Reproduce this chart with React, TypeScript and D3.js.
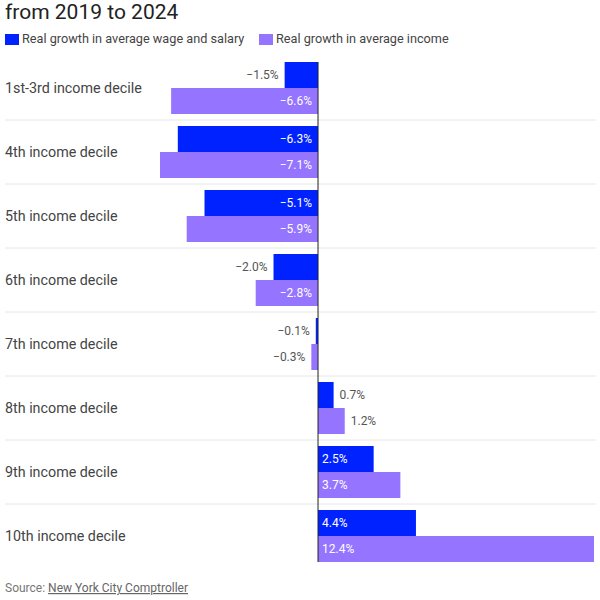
import * as d3 from "d3";
import { useEffect } from "react";

const categories = [
  "1st-3rd income decile",
  "4th income decile",
  "5th income decile",
  "6th income decile",
  "7th income decile",
  "8th income decile",
  "9th income decile",
  "10th income decile",
];
const wageGrowth = [-1.5, -6.3, -5.1, -2.0, -0.1, 0.7, 2.5, 4.4];
const incomeGrowth = [-6.6, -7.1, -5.9, -2.8, -0.3, 1.2, 3.7, 12.4];
const seriesNames = ["Real growth in average wage and salary", "Real growth in average income"];
const colors = ["#0022ff", "#9574ff"];

const FONT = "Roboto, 'Noto Sans', sans-serif";

export default function App() {
  useEffect(() => {
    document.body.style.margin = "0";
  }, []);

  const width = 600;
  const height = 600;
  const top = 56;
  const bottom = 568;

  const x = d3.scaleLinear().domain([-7.1, 12.4]).range([160, 594]);
  const y = d3.scaleBand().domain(categories).range([top, bottom]);
  const sub = d3.scaleBand().domain(["w", "i"]).range([6, y.bandwidth() - 6]);

  const fmt = (v: number) => `${v.toFixed(1)}%`.replace("-", "\u2212");

  // bar + its value label (inside when the bar is wide enough)
  const bar = (cat: string, v: number, key: "w" | "i", color: string) => {
    const x0 = x(0);
    const x1 = x(v);
    const left = Math.min(x0, x1);
    const w = Math.abs(x1 - x0);
    const by = y(cat)! + sub(key)!;
    const h = sub.bandwidth();
    const inside = w > 50;
    let tx: number;
    let anchor: string;
    if (v < 0) {
      tx = inside ? x0 - 6 : x1 - 6;
      anchor = "end";
    } else {
      tx = inside ? x0 + 4 : x1 + 6;
      anchor = "start";
    }
    return (
      <g key={cat + key}>
        <rect x={left} y={by} width={Math.max(w, 1)} height={h} fill={color} />
        <text
          x={tx}
          y={by + h / 2}
          dy="0.35em"
          textAnchor={anchor}
          fontSize={12}
          fill={inside ? "#ffffff" : "#555"}
        >
          {fmt(v)}
        </text>
      </g>
    );
  };

  return (
    <svg width={width} height={height} style={{ display: "block", fontFamily: FONT }}>
      <rect width={width} height={height} fill="#fff" />
      <text x={5} y={19} fontSize={21} fill="#222">
        from 2019 to 2024
      </text>

      {/* legend */}
      <g fontSize={12.7} fill="#444">
        <rect x={5} y={34} width={14} height={11} fill={colors[0]} />
        <text x={22} y={39} dy="0.35em">
          {seriesNames[0]}
        </text>
        <rect x={259} y={34} width={14} height={11} fill={colors[1]} />
        <text x={276} y={39} dy="0.35em">
          {seriesNames[1]}
        </text>
      </g>

      {/* separators */}
      {categories.slice(1).map((c) => (
        <line key={c} x1={5} x2={596} y1={y(c)!} y2={y(c)!} stroke="#e6e6e6" strokeWidth={1} />
      ))}

      {/* category labels */}
      {categories.map((c) => (
        <text key={c} x={5} y={y(c)! + y.bandwidth() / 2} dy="0.35em" fontSize={14.3} fill="#444">
          {c}
        </text>
      ))}

      {categories.map((c, i) => bar(c, wageGrowth[i], "w", colors[0]))}
      {categories.map((c, i) => bar(c, incomeGrowth[i], "i", colors[1]))}

      <line x1={x(0)} x2={x(0)} y1={top + 6} y2={bottom - 6} stroke="#222" strokeWidth={1} />

      <text x={5} y={592} fontSize={12} fill="#777">
        Source:{" "}
        <tspan fill="#666" textDecoration="underline">
          New York City Comptroller
        </tspan>
      </text>
    </svg>
  );
}
